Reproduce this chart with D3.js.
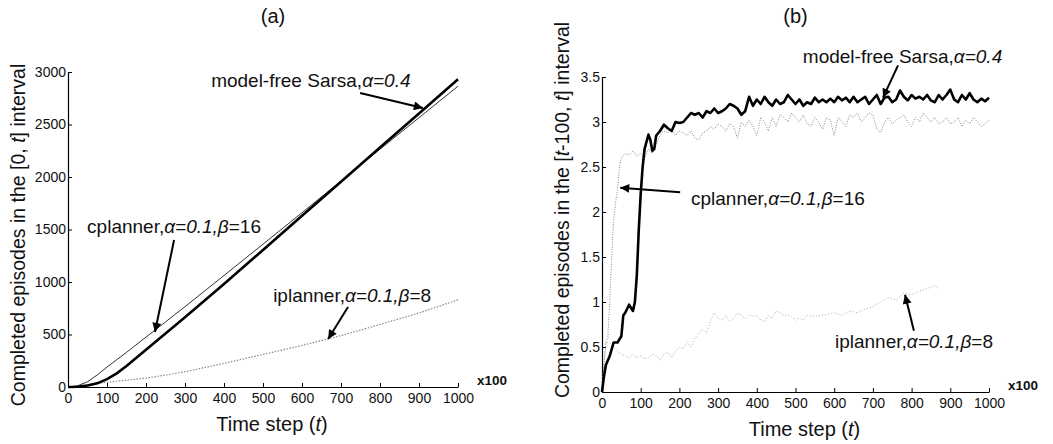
<!DOCTYPE html>
<html>
<head>
<meta charset="UTF-8">
<title>Completed episodes</title>
<script src="https://d3js.org/d3.v7.min.js"></script>
<style>
  body { margin: 0; background: #fff; }
  text { font-family: "Liberation Sans", Arial, sans-serif; fill: #111; }
</style>
</head>
<body>
<script>
// x values are time steps (x100)
var xTicks = [0, 100, 200, 300, 400, 500, 600, 700, 800, 900, 1000];

// panel (a): cumulative episodes in [0, t]
var cumT = [0, 25, 50, 75, 100, 125, 150, 200, 250, 300, 400, 500, 600, 700, 800, 900, 1000];
var cumSarsa = [0, 3, 15, 35, 75, 130, 200, 355, 510, 665, 980, 1305, 1630, 1955, 2280, 2605, 2930];
var cumCplanner = [0, 12, 50, 115, 190, 260, 330, 475, 620, 765, 1062, 1360, 1660, 1962, 2265, 2565, 2865];
var cumIplanner = [0, 10, 22, 34, 45, 55, 65, 85, 113, 145, 225, 310, 395, 490, 595, 705, 830];
var yTicksA = [0, 500, 1000, 1500, 2000, 2500, 3000];

// panel (b): episodes in [t-100, t]
var sarsaT = [0, 5, 10, 20, 30, 40, 50, 55, 60, 70, 80, 85, 90, 95, 100, 105, 110, 120, 125, 130, 135, 140, 150, 160, 170, 180, 190,
  200, 210, 220, 230, 240, 250, 260, 270, 280, 290, 300, 310, 320, 330, 340, 350, 360, 370, 380, 390,
  400, 410, 420, 430, 440, 450, 460, 470, 480, 490, 500, 510, 520, 530, 540, 550, 560, 570, 580, 590,
  600, 610, 620, 630, 640, 650, 660, 670, 680, 690, 700, 710, 720, 730, 740, 750, 760, 770, 780, 790,
  800, 810, 820, 830, 840, 850, 860, 870, 880, 890, 900, 910, 920, 930, 940, 950, 960, 970, 980, 990, 1000];
var sarsaRate = [0, 0.17, 0.3, 0.4, 0.55, 0.55, 0.62, 0.85, 0.88, 0.97, 0.9, 1.0, 1.3, 1.8, 2.2, 2.5, 2.7, 2.86, 2.8, 2.68, 2.7, 2.85, 2.9, 2.97, 2.93, 2.9, 3.0,
  2.99, 3.0, 3.05, 3.1, 3.08, 3.1, 3.05, 3.12, 3.1, 3.15, 3.1, 3.12, 3.15, 3.2, 3.18, 3.15, 3.08, 3.12, 3.28, 3.18,
  3.25, 3.2, 3.28, 3.22, 3.18, 3.25, 3.2, 3.22, 3.3, 3.25, 3.2, 3.25, 3.18, 3.22, 3.2, 3.27, 3.22, 3.25, 3.22, 3.26,
  3.22, 3.28, 3.24, 3.27, 3.22, 3.28, 3.22, 3.25, 3.28, 3.2, 3.25, 3.3, 3.2, 3.27, 3.28, 3.22, 3.25, 3.35, 3.28, 3.24,
  3.3, 3.26, 3.28, 3.25, 3.3, 3.24, 3.22, 3.3, 3.25, 3.3, 3.36, 3.25, 3.22, 3.3, 3.25, 3.32, 3.25, 3.22, 3.26, 3.23, 3.27];

var cplannerT = [0, 5, 10, 15, 20, 25, 30, 35, 40, 45, 50, 60, 70, 80, 90, 100, 110, 120, 130, 140, 150, 160, 170, 180, 190,
  200, 210, 220, 230, 240, 250, 260, 270, 280, 290, 300, 310, 320, 330, 340, 350, 360, 370, 380, 390,
  400, 410, 420, 430, 440, 450, 460, 470, 480, 490, 500, 510, 520, 530, 540, 550, 560, 570, 580, 590,
  600, 610, 620, 630, 640, 650, 660, 670, 680, 690, 700, 710, 720, 730, 740, 750, 760, 770, 780, 790,
  800, 810, 820, 830, 840, 850, 860, 870, 880, 890, 900, 910, 920, 930, 940, 950, 960, 970, 980, 990, 1000];
var cplannerRate = [0, 0.3, 0.55, 0.6, 1.0, 1.5, 1.9, 2.1, 2.25, 2.5, 2.6, 2.65, 2.63, 2.68, 2.62, 2.65, 2.6, 2.7, 2.65, 2.75, 2.85, 2.9, 2.88, 2.92, 2.85,
  2.9, 2.88, 2.85, 2.9, 2.82, 2.8, 2.88, 2.9, 2.95, 2.92, 2.98, 2.95, 2.9, 2.98, 2.95, 2.82, 3.0, 2.95, 3.02, 2.95,
  2.85, 3.05, 3.0, 2.9, 3.05, 2.95, 3.08, 3.05, 3.0, 3.1, 3.05, 3.0, 3.08, 2.98, 2.95, 3.05, 3.0, 2.92, 3.05, 3.02,
  2.85, 3.05, 3.0, 2.95, 3.08, 3.05, 3.1, 3.0, 3.05, 3.1, 3.08, 2.92, 2.88, 3.0, 3.05, 2.98, 3.02, 3.05, 3.08, 3.0,
  2.95, 3.05, 3.0, 3.1, 3.05, 3.0, 3.05, 2.98, 3.0, 3.05, 2.98, 3.0, 3.05, 2.95, 3.02, 2.98, 3.05, 3.0, 2.95, 2.98, 3.02];

var iplannerT = [0, 5, 10, 20, 30, 40, 50, 60, 70, 80, 90, 100, 110, 120, 130, 140, 150, 160, 170, 180, 190,
  200, 210, 220, 230, 240, 250, 260, 270, 280, 290, 300, 310, 320, 330, 340, 350, 360, 370, 380, 390,
  400, 410, 420, 430, 440, 450, 460, 470, 480, 490, 500, 510, 520, 530, 550, 580, 600, 620, 640, 660, 680,
  700, 720, 740, 760, 780, 800, 820, 840, 860, 870];
var iplannerRate = [0.1, 0.3, 0.55, 0.55, 0.5, 0.45, 0.42, 0.4, 0.38, 0.42, 0.38, 0.4, 0.37, 0.38, 0.42, 0.4, 0.36, 0.42, 0.44, 0.38, 0.45,
  0.5, 0.48, 0.55, 0.5, 0.6, 0.65, 0.7, 0.65, 0.78, 0.88, 0.82, 0.8, 0.85, 0.78, 0.82, 0.88, 0.85, 0.82, 0.86, 0.84,
  0.85, 0.8, 0.78, 0.85, 0.82, 0.9, 0.88, 0.85, 0.86, 0.84, 0.8, 0.82, 0.8, 0.85, 0.84, 0.86, 0.88, 0.85, 0.9, 0.88, 0.92,
  0.95, 1.0, 1.05, 1.02, 1.1, 1.08, 1.12, 1.15, 1.18, 1.15];
var yTicksB = [0, 0.5, 1, 1.5, 2, 2.5, 3, 3.5];

var W = 1053, H = 444;
var svg = d3.select("body").append("svg").attr("width", W).attr("height", H);

var defs = svg.append("defs");
defs.append("marker").attr("id", "head").attr("viewBox", "0 0 10 10")
  .attr("refX", 10).attr("refY", 5).attr("markerWidth", 14).attr("markerHeight", 9)
  .attr("markerUnits", "userSpaceOnUse").attr("orient", "auto")
  .append("path").attr("d", "M0,0 L10,5 L0,10 z").attr("fill", "#000");

function zip(xs, ys) { return xs.map(function (x, i) { return [x, ys[i]]; }); }

// label = array of [text, italic]
function label(g, x, y, parts, size) {
  var t = g.append("text").attr("x", x).attr("y", y).style("font-size", size + "px");
  parts.forEach(function (p) {
    t.append("tspan").text(p[0]).style("font-style", p[1] ? "italic" : "normal");
  });
  return t;
}

function styleAxis(a) {
  a.select(".domain").attr("stroke-width", 1.2);
  a.selectAll("text").style("font-size", "14px").style("font-family", "Liberation Sans, Arial");
}

function panel(cfg) {
  var x = d3.scaleLinear().domain([0, 1000]).range(cfg.xr);
  var y = d3.scaleLinear().domain(cfg.yd).range(cfg.yr);
  var g = svg.append("g");

  // axes (ticks point inward)
  g.append("g").attr("transform", "translate(0," + cfg.yr[0] + ")")
    .call(d3.axisBottom(x).tickValues(xTicks).tickSize(-4).tickPadding(6).tickSizeOuter(0).tickFormat(d3.format("d")))
    .call(styleAxis);
  g.append("g").attr("transform", "translate(" + cfg.xr[0] + ",0)")
    .call(d3.axisLeft(y).tickValues(cfg.yTicks).tickSize(-4).tickPadding(2).tickSizeOuter(0).tickFormat(cfg.fmt))
    .call(styleAxis);

  var line = d3.line().x(function (d) { return x(d[0]); }).y(function (d) { return y(d[1]); });
  cfg.series.forEach(function (s) {
    g.append("path").attr("d", line(zip(s.t, s.v))).attr("fill", "none")
      .attr("stroke", s.color).attr("stroke-width", s.w)
      .attr("stroke-dasharray", s.dash || null).attr("stroke-linejoin", "round");
  });

  // titles
  g.append("text").attr("x", (cfg.xr[0] + cfg.xr[1]) / 2 + cfg.titleDx).attr("y", 23)
    .attr("text-anchor", "middle").style("font-size", "20px").text(cfg.title);
  label(g, (cfg.xr[0] + cfg.xr[1]) / 2 + 9, cfg.yr[0] + 44, [["Time step (", false], ["t", true], [")", false]], 20)
    .attr("text-anchor", "middle");
  label(g, 0, 0, cfg.ylab, 19.5).attr("text-anchor", "middle")
    .attr("transform", "translate(" + cfg.ylabX + "," + cfg.ylabY + ") rotate(-90)");
  g.append("text").attr("x", cfg.xr[1] + 19).attr("y", cfg.yr[0] - 2)
    .style("font-size", "13.5px").style("font-weight", "bold").text("x100");

  // annotations
  cfg.notes.forEach(function (n) {
    label(g, x(n.tx), y(n.ty), n.parts, 19);
    g.append("line").attr("x1", x(n.a[0])).attr("y1", y(n.a[1]))
      .attr("x2", x(n.a[2])).attr("y2", y(n.a[3]))
      .attr("stroke", "#000").attr("stroke-width", 2).attr("marker-end", "url(#head)");
  });
}

var sarsaParts = [["model-free Sarsa,", false], ["\u03b1=0.4", true]];
var cplParts = [["cplanner,", false], ["\u03b1=0.1,\u03b2", true], ["=16", false]];
var iplParts = [["iplanner,", false], ["\u03b1=0.1,\u03b2", true], ["=8", false]];

panel({
  xr: [68, 458], yr: [387, 72], yd: [0, 3000], yTicks: yTicksA, fmt: d3.format("d"),
  title: "(a)", titleDx: 10,
  ylab: [["Completed episodes in the [0, ", false], ["t", true], ["] interval", false]], ylabX: 25, ylabY: 235,
  series: [
    { t: cumT, v: cumIplanner, color: "#888", w: 1.2, dash: "1.5,1.5" },
    { t: cumT, v: cumCplanner, color: "#333", w: 1 },
    { t: cumT, v: cumSarsa, color: "#000", w: 2.6 }
  ],
  notes: [
    { tx: 367, ty: 2857, parts: sarsaParts, a: [749, 2800, 910, 2657] },
    { tx: 49, ty: 1467, parts: cplParts, a: [272, 1400, 223, 524] },
    { tx: 526, ty: 810, parts: iplParts, a: [718, 762, 667, 457] }
  ]
});

panel({
  xr: [602, 989], yr: [392, 77], yd: [0, 3.5], yTicks: yTicksB, fmt: function (d) { return String(d); },
  title: "(b)", titleDx: 0,
  ylab: [["Completed episodes in the [", false], ["t", true], ["-100, ", false], ["t", true], ["] interval", false]], ylabX: 569, ylabY: 210,
  series: [
    { t: iplannerT, v: iplannerRate, color: "#aaa", w: 1, dash: "1,2" },
    { t: cplannerT, v: cplannerRate, color: "#888", w: 1, dash: "1,1.5" },
    { t: sarsaT, v: sarsaRate, color: "#000", w: 2.6 }
  ],
  notes: [
    { tx: 519, ty: 3.66, parts: sarsaParts, a: [765, 3.63, 726, 3.27] },
    { tx: 230, ty: 2.08, parts: cplParts, a: [202, 2.22, 47, 2.27] },
    { tx: 602, ty: 0.49, parts: iplParts, a: [806, 0.68, 783, 1.08] }
  ]
});
</script>
</body>
</html>
